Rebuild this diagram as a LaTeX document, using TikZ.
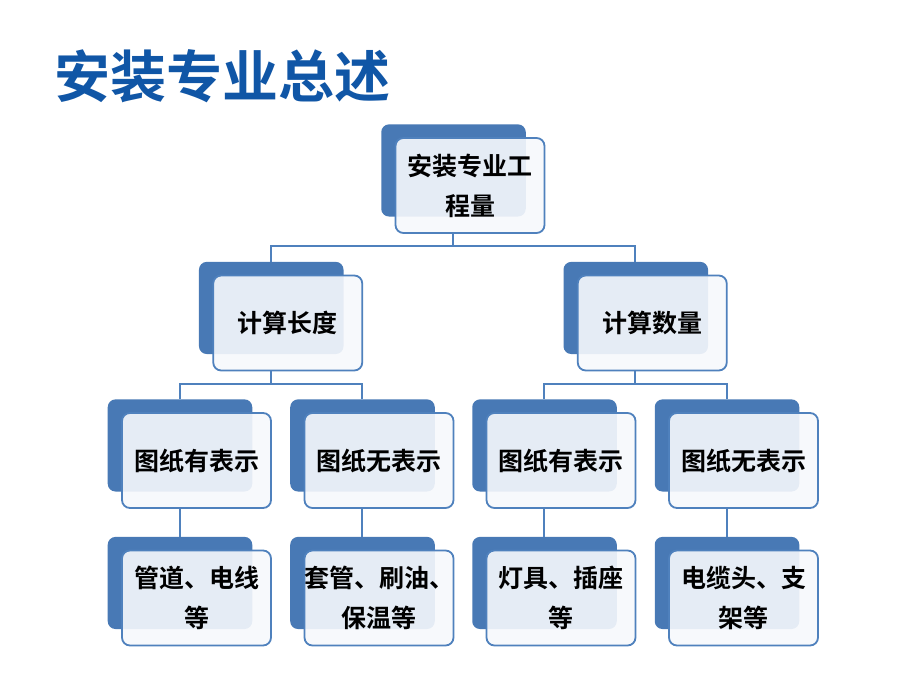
\documentclass[tikz,border=0pt]{standalone}
\usepackage{fontspec}
\usepackage{tikz}
\usetikzlibrary{trees,shadows}
\newfontfamily\cjk{Noto Sans CJK SC}[BoldFont={Noto Sans CJK SC Bold}]

\definecolor{titleblue}{RGB}{16,86,166}
\definecolor{backblue}{RGB}{72,121,181}
\definecolor{lineblue}{RGB}{79,129,189}
\definecolor{boxfill}{RGB}{247,249,252}

\tikzset{
  box/.style={draw=lineblue, line width=1.8pt, fill=boxfill, fill opacity=0.9,
    text opacity=1, rounded corners=8pt, minimum width=149pt, minimum height=95pt,
    text width=126pt, align=center, inner sep=2pt,
    font=\cjk\bfseries\fontsize{25pt}{40pt}\selectfont,
    copy shadow={shadow xshift=-17pt, shadow yshift=15.5pt, shadow scale=0.97,
      fill=backblue, draw=none, opacity=1, fill opacity=1}}
}

\begin{document}
\begin{tikzpicture}[
  x=1pt, y=1pt,
  grow=down,
  level distance=137.5pt,
  level 1/.style={sibling distance=364.5pt},
  level 2/.style={sibling distance=182.5pt},
  every child node/.style={box},
  edge from parent/.style={draw=lineblue, line width=2pt},
  edge from parent path={([xshift=-17pt]\tikzparentnode.south) -- ++(0,-12.5pt)
    -| ([xshift=-17pt,yshift=13pt]\tikzchildnode.north)}
]
\useasboundingbox (0,0) rectangle (920,-690);
\fill[white] (0,0) rectangle (920,-690);

\node[anchor=west, inner sep=0pt, text=titleblue,
  font=\cjk\bfseries\fontsize{56pt}{60pt}\selectfont] (title) at (54,-76) {安装专业总述};

\node[box] (root) at (470,-185.5) {安装专业工\\程量}
  child {node (len) {计算长度}
    child {node (lenyes) {图纸有表示}
      child {node (pipe) {管道、电线\\等}}
    }
    child {node (lenno) {图纸无表示}
      child {node (sleeve) {\makebox[\linewidth]{套管、刷油、}\\保温等}}
    }
  }
  child {node (num) {计算数量}
    child {node (numyes) {图纸有表示}
      child {node (lamp) {灯具、插座\\等}}
    }
    child {node (numno) {图纸无表示}
      child {node (cable) {电缆头、支\\架等}}
    }
  };

\end{tikzpicture}
\end{document}
